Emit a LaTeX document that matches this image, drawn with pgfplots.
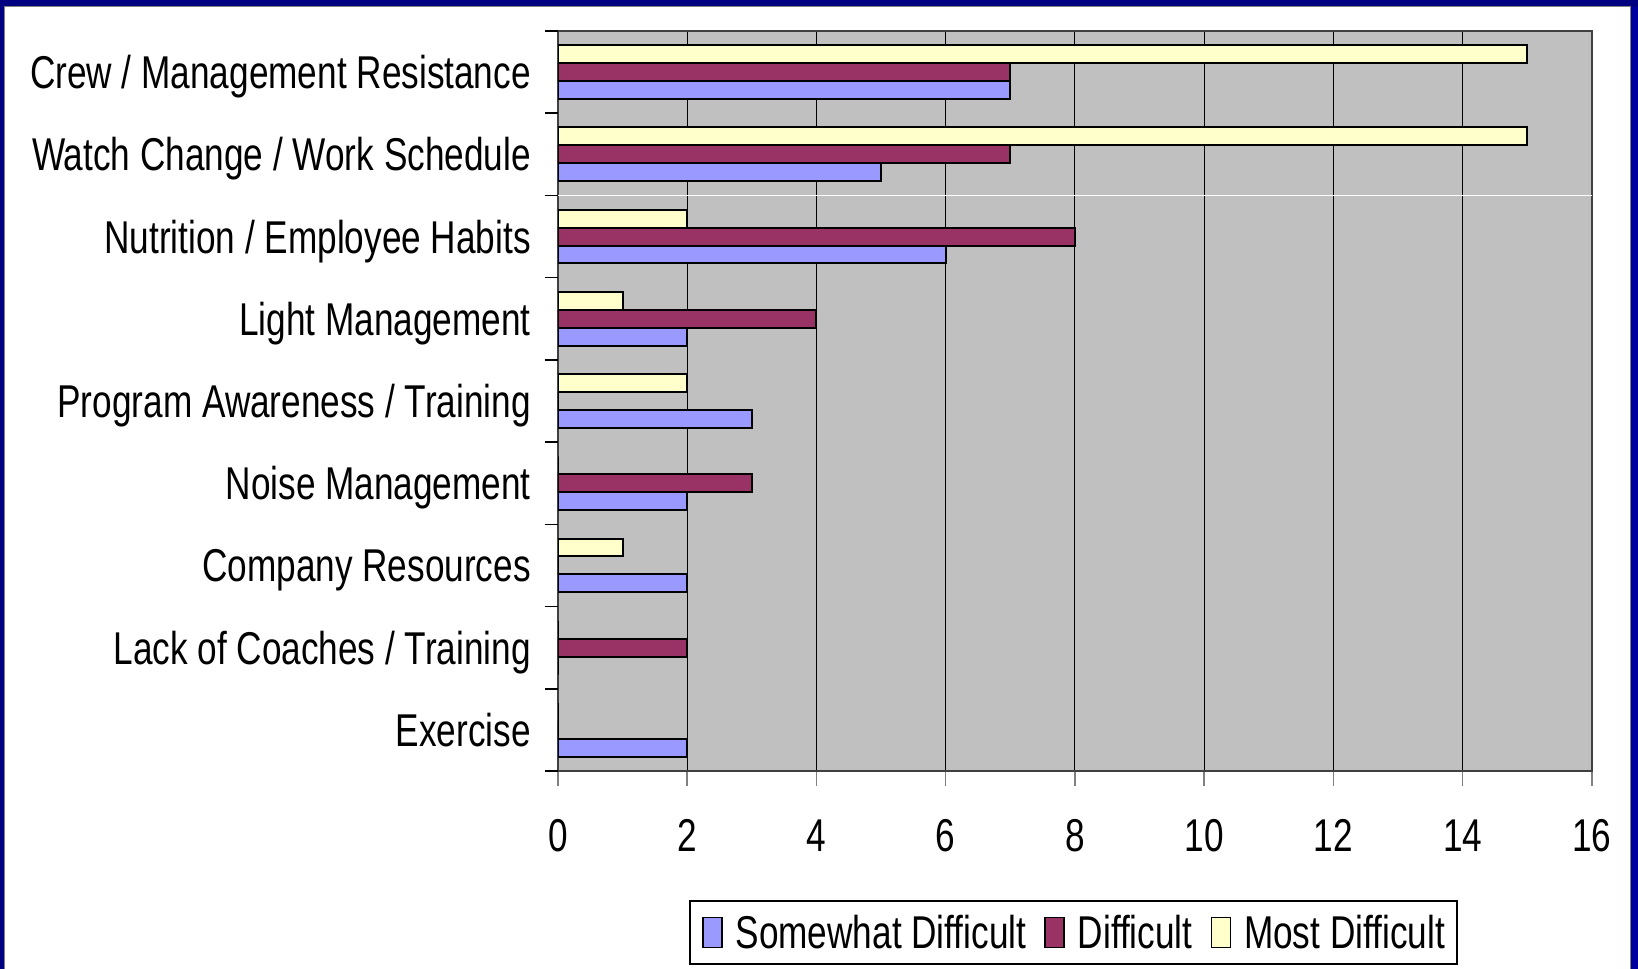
\documentclass[border=0pt]{standalone}
\usepackage{fontspec}
\setmainfont{Liberation Sans}[FakeStretch=0.765]
\usepackage{pgfplots}
\pgfplotsset{compat=1.18}
\definecolor{cSome}{HTML}{9999FF}
\definecolor{cDiff}{HTML}{993366}
\definecolor{cMost}{HTML}{FFFFCC}
\definecolor{cPlot}{HTML}{C0C0C0}
\definecolor{cNavy}{HTML}{000080}
\definecolor{cNavyR}{HTML}{0000A0}
\newcommand\fs{\fontsize{46bp}{55bp}\selectfont}
\begin{document}
\begin{tikzpicture}
\useasboundingbox (-558bp,-198bp) rectangle (1080bp,771bp);
\fill[cNavy] (-558bp,-198bp) rectangle (1080bp,771bp);
\fill[cNavyR] (1072bp,-198bp) rectangle (1080bp,764bp);
\filldraw[fill=white, draw=gray, line width=1bp] (-553.5bp,-205bp) rectangle (1072bp,764bp);
\begin{axis}[
  at={(0,0)}, anchor=south west, scale only axis,
  width=1034bp, height=740bp,
  xbar, bar width=0.218,
  xmin=0, xmax=16, ymin=-0.5, ymax=8.5,
  xtick={0,2,...,16}, xticklabels={0,2,4,6,8,10,12,14,16},
  ytick={0,...,8},
  yticklabels={Exercise, Lack of Coaches / Training, Company Resources, Noise Management, Program Awareness / Training, Light Management, Nutrition / Employee Habits, Watch Change / Work Schedule, Crew / Management Resistance},
  tick label style={font=\fs},
  xticklabel style={anchor=base, inner sep=0pt, yshift=-65bp},
  yticklabel style={anchor=base east, inner sep=0pt, xshift=-12bp, yshift=-16.5bp},
  tick align=outside, major tick length=15bp,
  xtick pos=left, ytick pos=left,
  xtick style={draw=gray, line width=1.5bp},
  ytick style={draw=none},
  extra y ticks={-0.5,0.5,...,8.5}, extra y tick labels={},
  extra y tick style={ytick style={draw=black, line width=1.5bp}, major tick length=13bp},
  xmajorgrids, major grid style={draw=black, line width=1bp},
  axis line style={draw=black!75, line width=1.5bp},
  axis background/.style={fill=cPlot},
  legend style={at={(0.4985,-0.2182)}, anchor=center, font=\fs, draw=black, line width=1.5bp, fill=white,
    inner xsep=12bp, inner ysep=14bp, nodes={inner sep=0pt},
    /tikz/every odd column/.append style={column sep=13bp},
    /tikz/every even column/.append style={column sep=18bp}},
  legend columns=-1,
  legend image code/.code={\draw[#1, line width=1.5bp] (0bp,-15bp) rectangle (19bp,15bp);},
]
\draw[white, line width=1bp] (axis cs:0,6.5) -- (axis cs:16,6.5);
\addplot[fill=cSome, draw=black, line width=2bp, bar shift=-0.218] coordinates
  {(7,8) (5,7) (6,6) (2,5) (3,4) (2,3) (2,2) (0,1) (2,0)};
\addlegendentry{Somewhat Difficult}
\addplot[fill=cDiff, draw=black, line width=2bp, bar shift=0] coordinates
  {(7,8) (7,7) (8,6) (4,5) (0,4) (3,3) (0,2) (2,1) (0,0)};
\addlegendentry{Difficult}
\addplot[fill=cMost, draw=black, line width=2bp, bar shift=0.218] coordinates
  {(15,8) (15,7) (2,6) (1,5) (2,4) (0,3) (1,2) (0,1) (0,0)};
\addlegendentry{Most Difficult}
\end{axis}
\end{tikzpicture}
\end{document}
